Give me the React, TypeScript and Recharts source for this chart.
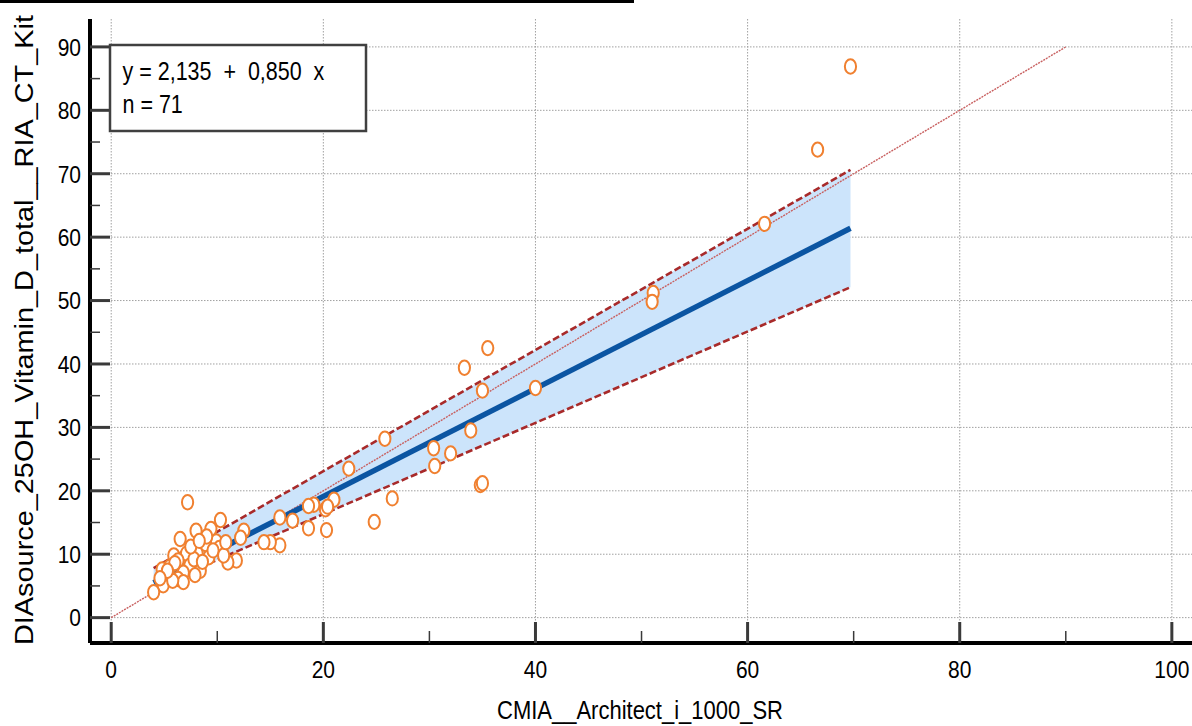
import React from 'react';
import { ComposedChart, Scatter, Line, Area, XAxis, YAxis, CartesianGrid } from 'recharts';

// Measured values: x = CMIA Architect i1000 SR, y = DIAsource 25OH Vitamin D total RIA CT Kit
const cmiaValues = [
  69.7, 66.6, 61.6, 51.1, 51.0, 40.0, 35.5, 33.3, 35.0, 33.9,
  30.4, 32.0, 30.5, 34.8, 35.0, 25.8, 22.4, 26.5, 24.8, 21.0,
  20.2, 20.4, 19.1, 18.6, 20.3, 18.6, 17.1, 15.9, 15.9, 15.0,
  14.4, 12.5, 12.2, 11.8, 11.0,
  7.2, 10.3, 9.4, 8.0, 6.5, 9.9, 8.9, 10.2, 5.9, 7.1,
  8.1, 6.3, 9.2, 7.4, 8.4, 6.8, 5.2, 6.3, 6.8, 4.9,
  4.0, 5.5, 4.8, 7.8, 9.6, 10.6, 8.6, 5.8, 7.5, 6.0,
  9.0, 10.8, 5.3, 7.9, 8.3, 4.6,
];
const diasourceValues = [
  86.9, 73.8, 62.1, 51.2, 49.8, 36.2, 42.5, 39.4, 35.8, 29.5,
  26.7, 25.9, 23.9, 20.9, 21.2, 28.2, 23.5, 18.8, 15.1, 18.6,
  17.1, 17.5, 17.8, 17.6, 13.8, 14.1, 15.3, 15.8, 11.4, 11.9,
  11.9, 13.7, 12.6, 9.0, 8.7,
  18.2, 15.4, 14.0, 13.7, 12.4, 12.0, 11.6, 11.0, 9.8, 10.1,
  10.1, 9.0, 9.5, 8.2, 7.4, 7.1, 6.9, 6.1, 5.6, 5.1,
  4.0, 8.0, 7.6, 9.2, 10.6, 9.8, 8.8, 5.8, 11.2, 8.6,
  12.8, 11.9, 7.4, 6.7, 12.1, 6.2,
];

// Fitted line, its confidence band and the identity line (read at the ends)
const fitX = [0, 4.0, 69.7, 90];
const identityY = [0, 4.0, 69.7, 90];
const regressionY = [null, 5.5, 61.4, null];
const bandLower = [null, 4.8, 52.1, null];
const bandUpper = [null, 7.8, 70.6, null];

const xTickValues = [0, 10, 20, 30, 40, 50, 60, 70, 80, 90, 100];
const yTickValues = [0, 5, 10, 15, 20, 25, 30, 35, 40, 45, 50, 55, 60, 65, 70, 75, 80, 85, 90];
const xGridValues = [0, 20, 40, 60, 80, 100];
const yGridValues = [0, 10, 20, 30, 40, 50, 60, 70, 80, 90];
const xDomain = [-2, 101.9];
const yDomain = [-4.0, 94.4];

const equationText = 'y = 2,135  +  0,850  x';
const countText = 'n = 71';
const xTitle = 'CMIA__Architect_i_1000_SR';
const yTitle = 'DIAsource_25OH_Vitamin_D_total__RIA_CT_Kit';

const points = cmiaValues.map((x, i) => ({ x, y: diasourceValues[i] }));
const lineTable = fitX.map((x, i) => ({
  x,
  identity: identityY[i],
  reg: regressionY[i],
  lo: bandLower[i],
  hi: bandUpper[i],
  band: bandLower[i] == null ? null : [bandLower[i], bandUpper[i]],
}));

const FONT = '"Liberation Sans", Arial, sans-serif';

const YTick = (props: any) => {
  const { x, y, payload } = props;
  const v = payload.value;
  const major = v % 10 === 0;
  return (
    <g>
      <line x1={x} y1={y} x2={x + (major ? 20 : 10)} y2={y} stroke="#3a3a3a" strokeWidth={major ? 3 : 1.5} />
      {major && (
        <text
          transform={`translate(${x - 9},${y}) scale(1,1.17)`}
          textAnchor="end"
          dy="0.36em"
          fontSize={21}
          fontFamily={FONT}
          fill="#000"
        >
          {v}
        </text>
      )}
    </g>
  );
};

const XTick = (props: any) => {
  const { x, y, payload } = props;
  const v = payload.value;
  const major = v % 20 === 0;
  return (
    <g>
      <line x1={x} y1={y} x2={x} y2={y - (major ? 21 : 12)} stroke="#3a3a3a" strokeWidth={major ? 3 : 1.5} />
      {major && (
        <text
          transform={`translate(${x},${y + 35}) scale(1,1.17)`}
          textAnchor="middle"
          fontSize={21}
          fontFamily={FONT}
          fill="#000"
        >
          {v}
        </text>
      )}
    </g>
  );
};

const PointShape = (props: any) => {
  const { cx, cy } = props;
  if (cx == null || cy == null) return <g />;
  return <ellipse cx={cx} cy={cy} rx={5.6} ry={7.2} fill="#ffffff" stroke="#F08030" strokeWidth={2} />;
};

export default function App() {
  return (
    <div style={{ position: 'absolute', left: 0, top: 0, width: 1192, height: 726, background: '#fff', overflow: 'hidden' }}>
      <ComposedChart
        width={1192}
        height={726}
        data={lineTable}
        margin={{ top: 19, right: 0, bottom: 0, left: 0 }}
      >
        <CartesianGrid
          stroke="#a0a0a0"
          strokeDasharray="1.5 1.5"
          horizontalValues={yGridValues}
          verticalValues={xGridValues}
        />
        <XAxis
          type="number"
          dataKey="x"
          domain={xDomain}
          allowDataOverflow
          ticks={xTickValues}
          interval={0}
          height={83}
          tickSize={0}
          tickMargin={0}
          tickLine={false}
          axisLine={{ stroke: '#000', strokeWidth: 4 }}
          tick={(p: any) => <XTick {...p} />}
        />
        <YAxis
          type="number"
          domain={yDomain}
          allowDataOverflow
          ticks={yTickValues}
          interval={0}
          width={90}
          tickSize={0}
          tickMargin={0}
          tickLine={false}
          axisLine={{ stroke: '#000', strokeWidth: 4 }}
          tick={(p: any) => <YTick {...p} />}
        />
        <Area
          dataKey="band"
          stroke="none"
          fill="#CCE4FB"
          fillOpacity={1}
          isAnimationActive={false}
          type="linear"
        />
        <Line
          dataKey="identity"
          stroke="#c86060"
          strokeWidth={1.4}
          strokeDasharray="2 1"
          dot={false}
          type="linear"
          isAnimationActive={false}
        />
        <Line
          dataKey="hi"
          stroke="#A82A2A"
          strokeWidth={2.6}
          strokeDasharray="7 3"
          dot={false}
          type="linear"
          isAnimationActive={false}
        />
        <Line
          dataKey="lo"
          stroke="#A82A2A"
          strokeWidth={2.6}
          strokeDasharray="7 3"
          dot={false}
          type="linear"
          isAnimationActive={false}
        />
        <Line
          dataKey="reg"
          stroke="#0B55A2"
          strokeWidth={5.5}
          dot={false}
          type="linear"
          isAnimationActive={false}
        />
        <Scatter data={points} dataKey="y" shape={(p: any) => <PointShape {...p} />} isAnimationActive={false} />
      </ComposedChart>
      <svg
        width={1192}
        height={726}
        style={{ position: 'absolute', left: 0, top: 0, pointerEvents: 'none' }}
      >
        <rect x={0} y={0} width={634} height={3} fill="#000" />
        <rect x={110} y={45} width={256} height={86} fill="#fff" stroke="#404040" strokeWidth={2.5} />
        <text
          transform="translate(122.5,80) scale(1,1.17)"
          fontSize={21.5}
          fontFamily={FONT}
          fill="#000"
          style={{ whiteSpace: 'pre' }}
        >
          {equationText}
        </text>
        <text transform="translate(122.5,113) scale(1,1.17)" fontSize={21.5} fontFamily={FONT} fill="#000">
          {countText}
        </text>
        <text
          transform="translate(640,719) scale(1,1.15)"
          textAnchor="middle"
          fontSize={22}
          fontFamily={FONT}
          fill="#000"
        >
          {xTitle}
        </text>
        <text
          transform="translate(33,330) rotate(-90)"
          textAnchor="middle"
          fontSize={25}
          fontFamily={FONT}
          fill="#000"
          textLength={630}
          lengthAdjust="spacingAndGlyphs"
        >
          {yTitle}
        </text>
      </svg>
    </div>
  );
}
